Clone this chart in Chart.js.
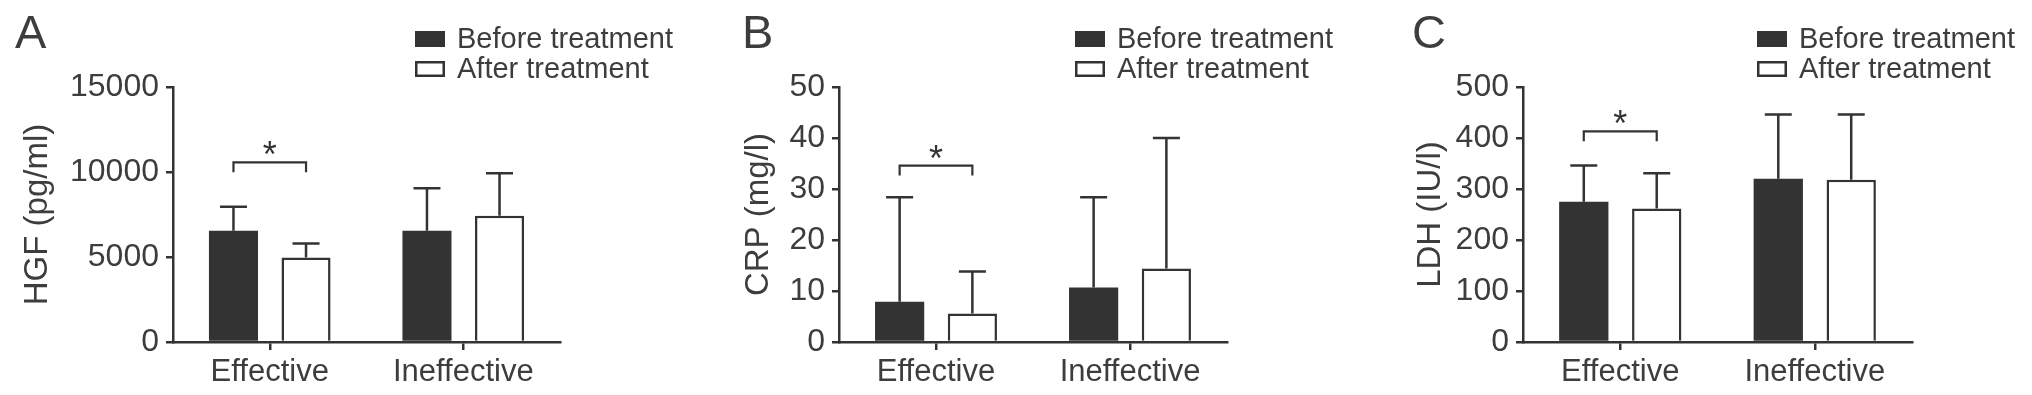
<!DOCTYPE html>
<html><head><meta charset="utf-8">
<script src="https://cdn.jsdelivr.net/npm/chart.js@4.4.1/dist/chart.umd.min.js"></script>
<style>
html,body{margin:0;padding:0;background:#fff;width:2032px;height:395px;overflow:hidden}
canvas{position:absolute;top:0}
</style></head><body>
<canvas id="cA" width="680" height="395" style="left:0px"></canvas>
<canvas id="cB" width="680" height="395" style="left:666px"></canvas>
<canvas id="cC" width="682" height="395" style="left:1350px"></canvas>
<script>
// ---------- data ----------
const categories = ['Effective', 'Ineffective'];
const seriesLabels = ['Before treatment', 'After treatment'];

// Panel A: HGF (pg/ml)
const hgfBefore = [6550, 6550];
const hgfAfter = [4970, 7430];
const hgfBeforeSD = [1410, 2490];
const hgfAfterSD = [830, 2500];
const hgfTicks = [0, 5000, 10000, 15000];
const hgfSigLevel = [10570];

// Panel B: CRP (mg/l)
const crpBefore = [7.9, 10.7];
const crpAfter = [5.6, 14.4];
const crpBeforeSD = [20.5, 17.7];
const crpAfterSD = [8.2, 25.6];
const crpTicks = [0, 10, 20, 30, 40, 50];
const crpSigLevel = [34.6];

// Panel C: LDH (IU/l)
const ldhBefore = [275, 320];
const ldhAfter = [262, 318];
const ldhBeforeSD = [71, 126];
const ldhAfterSD = [69, 128];
const ldhTicks = [0, 100, 200, 300, 400, 500];
const ldhSigLevel = [413];

const sigCategory = [0];
const sigText = ['*'];

// ---------- style ----------
const FONT = "'Liberation Sans', Arial, Helvetica, sans-serif";
const INK = '#333333';
const TXT = '#3d3d3d';
Chart.defaults.font.family = FONT;
Chart.defaults.color = TXT;

const annotate = {
  id: 'annotate',
  afterDatasetsDraw(chart, args, o) {
    const ctx = chart.ctx, ys = chart.scales.y;
    ctx.save();
    ctx.strokeStyle = INK; ctx.lineWidth = 2.5; ctx.lineCap = 'butt';
    chart.data.datasets.forEach((ds, di) => {
      const meta = chart.getDatasetMeta(di);
      meta.data.forEach((bar, i) => {
        const yb = ys.getPixelForValue(ds.data[i]);
        const yt = ys.getPixelForValue(ds.data[i] + ds.sd[i]);
        ctx.beginPath();
        ctx.moveTo(bar.x, yb); ctx.lineTo(bar.x, yt);
        ctx.moveTo(bar.x - o.cap / 2, yt); ctx.lineTo(bar.x + o.cap / 2, yt);
        ctx.stroke();
      });
    });
    // significance brackets
    o.sigCat.forEach((c, k) => {
      const x1 = chart.getDatasetMeta(0).data[c].x;
      const x2 = chart.getDatasetMeta(1).data[c].x;
      const yl = ys.getPixelForValue(o.sigLevel[k]);
      ctx.beginPath();
      ctx.moveTo(x1, yl + 10); ctx.lineTo(x1, yl); ctx.lineTo(x2, yl); ctx.lineTo(x2, yl + 10);
      ctx.lineWidth = 2.2;
      ctx.stroke();
      ctx.fillStyle = INK;
      ctx.font = '36px ' + FONT;
      ctx.textAlign = 'center'; ctx.textBaseline = 'alphabetic';
      ctx.fillText(o.sigText[k], (x1 + x2) / 2, yl + 5);
    });
    ctx.restore();
  },
  afterDraw(chart, args, o) {
    const ctx = chart.ctx, ca = chart.chartArea;
    ctx.save();
    // panel letter
    ctx.fillStyle = TXT;
    ctx.font = '47px ' + FONT;
    ctx.textAlign = 'left'; ctx.textBaseline = 'alphabetic';
    ctx.fillText(o.letter, o.letterX, 48);
    // legend
    ctx.font = '29px ' + FONT;
    ctx.textBaseline = 'middle';
    chart.data.datasets.forEach((ds, i) => {
      const bx = ca.left + o.legendDX, by = 31 + i * 30;
      if (ds.backgroundColor === '#ffffff') {
        ctx.fillStyle = '#ffffff';
        ctx.fillRect(bx, by, 30, 16);
        ctx.strokeStyle = INK; ctx.lineWidth = 2.5;
        ctx.strokeRect(bx + 1.25, by + 1.25, 27.5, 13.5);
      } else {
        ctx.fillStyle = ds.backgroundColor;
        ctx.fillRect(bx, by, 30, 16);
      }
      ctx.fillStyle = TXT;
      ctx.fillText(ds.label, bx + 42, by + 9);
    });
    ctx.restore();
  }
};

function makeChart(id, before, after, beforeSD, afterSD, ticks, title, titlePad, letter, letterX, legendDX, sigLevel, padRight) {
  const max = ticks[ticks.length - 1];
  return new Chart(document.getElementById(id), {
    type: 'bar',
    data: {
      labels: categories,
      datasets: [
        { label: seriesLabels[0], data: before, sd: beforeSD, backgroundColor: INK, borderColor: INK, borderWidth: 0 },
        { label: seriesLabels[1], data: after, sd: afterSD, backgroundColor: '#ffffff', borderColor: INK, borderWidth: 2.5 }
      ]
    },
    options: {
      responsive: false, animation: false, devicePixelRatio: 1,
      categoryPercentage: 0.75, barPercentage: 0.676,
      layout: { padding: { left: 0, right: padRight, top: 87, bottom: 0 } },
      plugins: {
        legend: { display: false }, tooltip: { enabled: false },
        annotate: { cap: 27, letter, letterX, legendDX, sigCat: sigCategory, sigLevel, sigText }
      },
      scales: {
        x: {
          grid: { offset: false, drawOnChartArea: false, tickLength: 8, lineWidth: 2.5, color: INK },
          border: { display: true, width: 2.5, color: INK },
          ticks: { font: { size: 31 }, color: TXT, padding: 4 },
          afterFit(s) { s.height = 53; }
        },
        y: {
          min: 0, max: max,
          grid: { drawOnChartArea: false, tickLength: 7, lineWidth: 2.5, color: INK },
          border: { display: true, width: 2.5, color: INK },
          afterBuildTicks(s) { s.ticks = ticks.map(v => ({ value: v })); },
          ticks: { font: { size: 32 }, color: TXT, padding: 7, callback: v => String(v) },
          title: { display: true, text: title, font: { size: 33 }, color: TXT, padding: { top: titlePad, bottom: 0 } },
          afterFit(s) { s.width = 173; }
        }
      }
    },
    plugins: [annotate]
  });
}

makeChart('cA', hgfBefore, hgfAfter, hgfBeforeSD, hgfAfterSD, hgfTicks, 'HGF (pg/ml)', 18, 'A', 15, 242, hgfSigLevel, 120);
makeChart('cB', crpBefore, crpAfter, crpBeforeSD, crpAfterSD, crpTicks, 'CRP (mg/l)', 73, 'B', 76, 236, crpSigLevel, 119);
makeChart('cC', ldhBefore, ldhAfter, ldhBeforeSD, ldhAfterSD, ldhTicks, 'LDH (IU/l)', 61, 'C', 62, 234, ldhSigLevel, 120);
</script>
</body></html>
